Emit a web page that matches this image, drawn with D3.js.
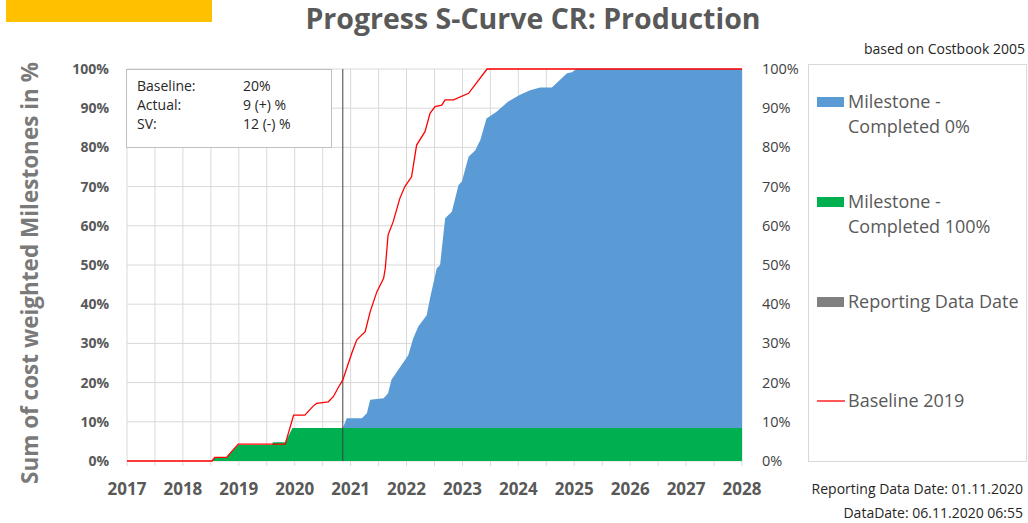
<!DOCTYPE html>
<html>
<head>
<meta charset="utf-8">
<script src="https://cdnjs.cloudflare.com/ajax/libs/d3/7.8.5/d3.min.js"></script>
<style>
  body { margin: 0; background: #fff; }
  svg { display: block; font-family: "Open Sans", sans-serif; }
</style>
</head>
<body>
<div id="chart"></div>
<script>
const width = 1028,
  height = 523;

// DATA (decimal years, percent)
const years = [2017, 2018, 2019, 2020, 2021, 2022, 2023, 2024, 2025, 2026, 2027, 2028];
const pctTicks = [0, 10, 20, 30, 40, 50, 60, 70, 80, 90, 100];
const reportDate = 2020.86;

// Milestone - Completed 100%
const completed100 = [
  [2017.0, 0], [2018.52, 0], [2018.57, 0.9], [2018.78, 0.9], [2018.99, 4.1],
  [2019.59, 4.1], [2019.61, 4.8], [2019.83, 4.8], [2019.96, 8.4], [2028.0, 8.4]
];

// Milestone - Completed 0% (cumulative top of the stack)
const completed0 = [
  [2020.86, 8.4], [2020.93, 10.9], [2021.2, 10.9], [2021.29, 12.2], [2021.35, 15.6],
  [2021.59, 16.0], [2021.67, 17.3], [2021.73, 20.7], [2022.03, 27.0], [2022.12, 31.3],
  [2022.21, 34.3], [2022.36, 37.2], [2022.42, 41.5], [2022.54, 49.2], [2022.6, 50.0],
  [2022.69, 61.9], [2022.81, 63.6], [2022.93, 70.4], [2022.99, 71.3], [2023.11, 77.6],
  [2023.23, 79.3], [2023.32, 81.9], [2023.43, 87.4], [2023.61, 89.1], [2023.82, 91.7],
  [2024.03, 93.4], [2024.21, 94.6], [2024.39, 95.3], [2024.6, 95.3], [2024.87, 98.9],
  [2024.96, 99.2], [2025.04, 100], [2028.0, 100]
];

// Baseline 2019
const baseline2019 = [
  [2017.0, 0], [2018.52, 0], [2018.57, 0.9], [2018.78, 0.9], [2018.99, 4.3],
  [2019.83, 4.3], [2019.98, 11.7], [2020.18, 11.7], [2020.33, 14.0], [2020.39, 14.7],
  [2020.6, 15.1], [2020.69, 16.4], [2020.77, 18.5], [2020.86, 20.7], [2021.02, 27.5],
  [2021.11, 30.9], [2021.26, 33.0], [2021.35, 38.1], [2021.47, 43.2], [2021.59, 46.6],
  [2021.62, 49.2], [2021.67, 57.7], [2021.76, 61.0], [2021.88, 67.0], [2021.97, 70.0],
  [2022.09, 72.5], [2022.18, 80.6], [2022.33, 84.0], [2022.42, 88.7], [2022.51, 90.4],
  [2022.63, 90.8], [2022.69, 92.1], [2022.84, 92.1], [2023.11, 93.8], [2023.44, 100],
  [2028.0, 100]
];

const infoRows = [["Baseline:", "20%"], ["Actual:", "9 (+) %"], ["SV:", "12 (-) %"]];

const legendItems = [
  { lines: ["Milestone -", "Completed 0%"], color: "#5b9bd5", type: "rect", y: 102 },
  { lines: ["Milestone -", "Completed 100%"], color: "#00b050", type: "rect", y: 202 },
  { lines: ["Reporting Data Date"], color: "#808080", type: "rect", y: 302 },
  { lines: ["Baseline 2019"], color: "#ff0000", type: "line", y: 401 }
];

const svg = d3.select("#chart")
  .append("svg")
  .attr("width", width)
  .attr("height", height);

// SCALES
const x = d3.scaleLinear().domain([2017, 2028]).range([127, 742]);
const y = d3.scaleLinear().domain([0, 100]).range([461, 69]);

// yellow tag top left
svg.append("rect")
  .attr("x", 6).attr("y", 0)
  .attr("width", 206).attr("height", 22)
  .attr("fill", "#ffc000");

// TITLE
svg.append("text")
  .attr("x", 533).attr("y", 29)
  .attr("text-anchor", "middle")
  .attr("font-size", 28.5)
  .attr("font-weight", "bold")
  .attr("fill", "#595959")
  .text("Progress S-Curve CR: Production");

svg.append("text")
  .attr("x", 1025).attr("y", 54)
  .attr("text-anchor", "end")
  .attr("font-size", 14)
  .attr("fill", "#262626")
  .text("based on Costbook 2005");

// GRID
const halfYears = d3.range(2017, 2028.01, 0.5);
svg.append("g")
  .selectAll("line")
  .data(halfYears)
  .join("line")
  .attr("x1", d => x(d)).attr("x2", d => x(d))
  .attr("y1", y(100)).attr("y2", y(0) + 5)
  .attr("stroke", "#d9d9d9")
  .attr("stroke-width", 1);

svg.append("g")
  .selectAll("line")
  .data(pctTicks)
  .join("line")
  .attr("x1", x(2017)).attr("x2", x(2028))
  .attr("y1", d => y(d)).attr("y2", d => y(d))
  .attr("stroke", "#d9d9d9")
  .attr("stroke-width", 1);

// green at a given year, for stacking the blue area on top
const bis = d3.bisector(d => d[0]).right;
function greenAt(t) {
  const i = bis(completed100, t);
  if (i <= 0) return completed100[0][1];
  if (i >= completed100.length) return completed100[completed100.length - 1][1];
  const a = completed100[i - 1], b = completed100[i];
  return a[1] + (b[1] - a[1]) * (t - a[0]) / (b[0] - a[0]);
}

// AREAS
svg.append("path")
  .datum(completed100)
  .attr("fill", "#00b050")
  .attr("d", d3.area().x(d => x(d[0])).y0(y(0)).y1(d => y(d[1])));

svg.append("path")
  .datum(completed0)
  .attr("fill", "#5b9bd5")
  .attr("d", d3.area().x(d => x(d[0])).y0(d => y(greenAt(d[0]))).y1(d => y(d[1])));

// reporting data date
svg.append("line")
  .attr("x1", x(reportDate)).attr("x2", x(reportDate))
  .attr("y1", y(100)).attr("y2", y(0))
  .attr("stroke", "#404040")
  .attr("stroke-width", 1);

// baseline line
svg.append("path")
  .datum(baseline2019)
  .attr("fill", "none")
  .attr("stroke", "#ff0000")
  .attr("stroke-width", 1.3)
  .attr("d", d3.line().x(d => x(d[0])).y(d => y(d[1])));

// INFO BOX
svg.append("rect")
  .attr("x", 126.5).attr("y", 69.5)
  .attr("width", 205).attr("height", 78)
  .attr("fill", "#fff")
  .attr("stroke", "#bfbfbf");

const info = svg.append("g")
  .selectAll("g")
  .data(infoRows)
  .join("g")
  .attr("transform", (d, i) => `translate(0,${91 + i * 19})`);
info.append("text").attr("x", 137).attr("font-size", 14).attr("fill", "#262626").text(d => d[0]);
info.append("text").attr("x", 243).attr("font-size", 14).attr("fill", "#262626").text(d => d[1]);

// AXES
svg.append("g")
  .selectAll("text")
  .data(years)
  .join("text")
  .attr("x", d => x(d)).attr("y", 495)
  .attr("text-anchor", "middle")
  .attr("font-size", 17)
  .attr("font-weight", "bold")
  .attr("fill", "#595959")
  .text(d => d);

svg.append("g")
  .selectAll("text")
  .data(pctTicks)
  .join("text")
  .attr("x", 109).attr("y", d => y(d))
  .attr("dy", "0.35em")
  .attr("text-anchor", "end")
  .attr("font-size", 14)
  .attr("font-weight", "bold")
  .attr("fill", "#595959")
  .text(d => d + "%");

svg.append("g")
  .selectAll("text")
  .data(pctTicks)
  .join("text")
  .attr("x", 762).attr("y", d => y(d))
  .attr("dy", "0.35em")
  .attr("font-size", 14.5)
  .attr("fill", "#404040")
  .text(d => d + "%");

svg.append("text")
  .attr("transform", "translate(38,273) rotate(-90)")
  .attr("text-anchor", "middle")
  .attr("font-size", 22.5)
  .attr("font-weight", "bold")
  .attr("fill", "#7a7a7a")
  .text("Sum of cost weighted Milestones in %");

// LEGEND
svg.append("rect")
  .attr("x", 808.5).attr("y", 64.5)
  .attr("width", 218).attr("height", 397)
  .attr("fill", "#fff")
  .attr("stroke", "#d9d9d9");

const leg = svg.append("g")
  .selectAll("g")
  .data(legendItems)
  .join("g")
  .attr("transform", d => `translate(0,${d.y})`);

leg.filter(d => d.type === "rect")
  .append("rect")
  .attr("x", 817).attr("y", -5)
  .attr("width", 27).attr("height", 10)
  .attr("fill", d => d.color);

leg.filter(d => d.type === "line")
  .append("line")
  .attr("x1", 817).attr("x2", 845)
  .attr("y1", 0).attr("y2", 0)
  .attr("stroke", d => d.color)
  .attr("stroke-width", 1.3);

leg.each(function(d) {
  d3.select(this).selectAll("text")
    .data(d.lines)
    .join("text")
    .attr("x", 848)
    .attr("y", (t, i) => 6 + i * 25)
    .attr("font-size", 18)
    .attr("fill", "#595959")
    .text(t => t);
});

// footer dates
svg.append("text")
  .attr("x", 1023).attr("y", 494)
  .attr("text-anchor", "end")
  .attr("font-size", 14)
  .attr("fill", "#262626")
  .text("Reporting Data Date: 01.11.2020");

svg.append("text")
  .attr("x", 1023).attr("y", 518)
  .attr("text-anchor", "end")
  .attr("font-size", 14)
  .attr("fill", "#262626")
  .text("DataDate: 06.11.2020 06:55");
</script>
</body>
</html>
